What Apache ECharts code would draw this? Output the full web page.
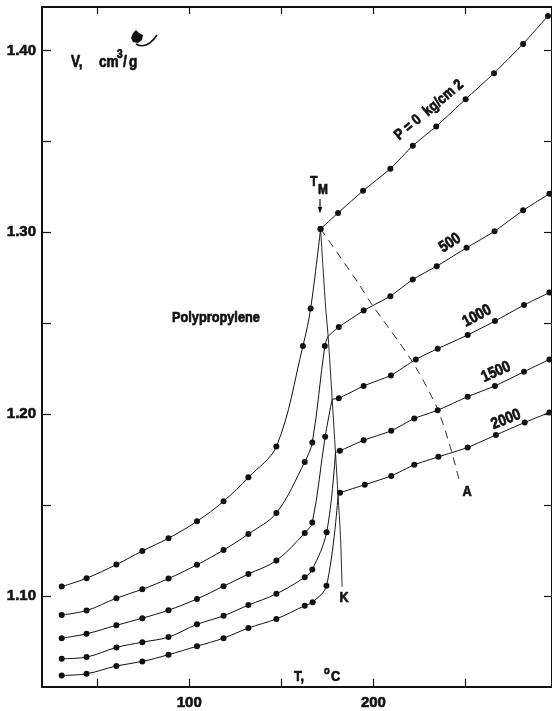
<!DOCTYPE html>
<html>
<head>
<meta charset="utf-8">
<script src="https://cdn.jsdelivr.net/npm/echarts@6/dist/echarts.min.js"></script>
<style>
  html, body { margin: 0; padding: 0; background: #fff; }
  #chart { width: 552px; height: 711px; }
</style>
</head>
<body>
<div id="chart"></div>
<script>
// Specific volume V (cm3/g) of polypropylene against temperature T (°C)
// at five pressures; each isobar has a solid branch and a melt branch.

const FONT = "'Liberation Sans', Arial, sans-serif";

// axis ticks and labels
const xTicks = [50, 100, 150, 200, 250];
const xLabels = [100, 200];
const yTicks = [1.10, 1.15, 1.20, 1.25, 1.30, 1.35, 1.40];
const yLabels = [1.10, 1.20, 1.30, 1.40];

// P = 0 kg/cm2
const solidP0 = [[30.7, 1.1051], [44.2, 1.1097], [60.4, 1.1172], [74.5, 1.1247], [88.7, 1.1317],
  [104.2, 1.1410], [118.6, 1.1520], [132.1, 1.1652], [147.3, 1.1822], [161.7, 1.2374], [165.9, 1.2581]];
const meltPointTM = [171.3, 1.3019];
const liquidP0 = [[180.8, 1.3107], [194.4, 1.3229], [209.2, 1.3350], [221.4, 1.3477], [234.1, 1.3583],
  [250.1, 1.3733], [265.5, 1.3876], [281.3, 1.4037], [294.8, 1.4191]];

// 500 kg/cm2
const solid500 = [[30.7, 1.0895], [44.2, 1.0919], [60.4, 1.0987], [74.5, 1.1036], [88.7, 1.1095],
  [104.2, 1.1171], [118.6, 1.1252], [132.1, 1.1340], [147.3, 1.1456], [162.7, 1.1737], [166.8, 1.1844], [173.6, 1.2374]];
const liquid500 = [[181.2, 1.2479], [194.7, 1.2570], [209.2, 1.2649], [221.4, 1.2741], [234.4, 1.2814],
  [250.6, 1.2915], [265.8, 1.3006], [281.3, 1.3121], [295.6, 1.3212]];

// 1000 kg/cm2
const solid1000 = [[30.7, 1.0767], [44.2, 1.0791], [60.4, 1.0838], [74.5, 1.0877], [88.7, 1.0921],
  [104.2, 1.0983], [118.6, 1.1053], [132.1, 1.1120], [147.3, 1.1194], [162.7, 1.1346], [166.8, 1.1404], [173.8, 1.1876]];
const liquid1000 = [[181.2, 1.2087], [194.7, 1.2155], [209.5, 1.2213], [223.0, 1.2301], [234.9, 1.2360],
  [251.2, 1.2435], [266.0, 1.2512], [281.8, 1.2600], [295.6, 1.2669]];

// 1500 kg/cm2
const solid1500 = [[30.7, 1.0654], [44.2, 1.0663], [60.4, 1.0716], [74.5, 1.0745], [88.7, 1.0773],
  [104.2, 1.0843], [118.6, 1.0890], [132.1, 1.0949], [147.3, 1.1011], [162.7, 1.1102], [166.8, 1.1145], [174.6, 1.1350]];
const liquid1500 = [[181.8, 1.1798], [194.7, 1.1856], [209.7, 1.1908], [222.2, 1.1976], [234.9, 1.2021],
  [251.2, 1.2096], [266.0, 1.2155], [281.8, 1.2233], [295.6, 1.2301]];

// 2000 kg/cm2
const solid2000 = [[30.7, 1.0562], [44.2, 1.0571], [60.4, 1.0614], [74.5, 1.0639], [88.7, 1.0676],
  [104.2, 1.0723], [118.6, 1.0767], [132.1, 1.0823], [147.3, 1.0873], [162.7, 1.0946], [167.0, 1.0965], [174.5, 1.1055]];
const liquid2000 = [[181.9, 1.1567], [195.3, 1.1611], [209.7, 1.1660], [222.2, 1.1721], [235.3, 1.1765],
  [251.2, 1.1816], [266.5, 1.1885], [282.2, 1.1954], [295.6, 1.2009]];

// where each solid branch meets the T_M–K line
const junctions = [[175.4, 1.2429], [177.6, 1.2082], [179.4, 1.1789], [180.8, 1.1551]];

// guide lines from T_M
const lineTMtoK = [[171.3, 1.3019], [174.0, 1.2594], [175.4, 1.2429], [177.6, 1.2082], [179.4, 1.1789],
  [180.8, 1.1551], [182.1, 1.1331], [183.0, 1.1049]];
const lineTMtoA = [[171.3, 1.3019], [191.1, 1.2731], [199.2, 1.2603], [220.9, 1.2292], [234.4, 1.2038],
  [241.3, 1.1835], [246.7, 1.1631]];

const INK = '#111';

function hidden(p) { return { value: p, symbol: 'none' }; }

function branch(data, smooth) {
  return {
    type: 'line', data: data, smooth: smooth,
    symbol: 'circle', symbolSize: 6,
    itemStyle: { color: INK },
    lineStyle: { color: INK, width: 1 },
    z: 3
  };
}

const series = [
  // P = 0
  branch(solidP0.concat([meltPointTM]), 0.35),
  branch([meltPointTM].concat(liquidP0), 0.15),
  // 500
  branch(solid500.concat([hidden(junctions[0])]), 0.35),
  branch([hidden(junctions[0])].concat(liquid500), 0.15),
  // 1000
  branch(solid1000.concat([hidden(junctions[1])]), 0.35),
  branch([hidden(junctions[1])].concat(liquid1000), 0.15),
  // 1500
  branch(solid1500.concat([hidden(junctions[2])]), 0.35),
  branch([hidden(junctions[2])].concat(liquid1500), 0.15),
  // 2000
  branch(solid2000.concat([hidden(junctions[3])]), 0.35),
  branch([hidden(junctions[3])].concat(liquid2000), 0.15),
  {
    type: 'line', data: lineTMtoK, smooth: 0.3, symbol: 'none',
    lineStyle: { color: INK, width: 0.9 }, z: 2
  },
  {
    type: 'line', data: lineTMtoA, smooth: 0.3, symbol: 'none',
    lineStyle: { color: INK, width: 0.9, type: [8, 6] }, z: 2
  }
];

const axisLine = { show: true, onZero: false, lineStyle: { color: INK, width: 2 } };
const tickLabel = {
  color: INK, fontFamily: FONT, fontWeight: 'bold', fontSize: 15,
  textBorderColor: INK, textBorderWidth: 0.6
};

// heavy, horizontally condensed annotation text
function txt(x, y, text, size, rot, align) {
  return {
    type: 'text', x: x, y: y, rotation: (rot || 0) * Math.PI / 180, scaleX: 0.85, silent: true,
    style: {
      text: text, fill: INK, stroke: INK, lineWidth: 0.7,
      fontFamily: FONT, fontWeight: 'bold', fontSize: size,
      align: align || 'center', verticalAlign: 'middle'
    }
  };
}

const chart = echarts.init(document.getElementById('chart'), null, { renderer: 'canvas' });
chart.setOption({
  animation: false,
  backgroundColor: '#fff',
  grid: { left: 42, top: 7, width: 512, height: 681, containLabel: false },
  xAxis: [
    {
      type: 'value', min: 20, max: 297, position: 'bottom',
      axisLine: axisLine,
      axisTick: { show: true, inside: true, length: 8, customValues: xTicks, lineStyle: { color: INK, width: 1.2 } },
      axisLabel: Object.assign({ customValues: xLabels, margin: 9 }, tickLabel),
      splitLine: { show: false }
    },
    {
      type: 'value', min: 20, max: 297, position: 'top',
      axisLine: axisLine,
      axisTick: { show: true, inside: true, length: 7, customValues: xTicks, lineStyle: { color: INK, width: 1.2 } },
      axisLabel: { show: false },
      splitLine: { show: false }
    }
  ],
  yAxis: [
    {
      type: 'value', min: 1.05, max: 1.424, position: 'left',
      axisLine: axisLine,
      axisTick: { show: true, inside: true, length: 9, customValues: yTicks, lineStyle: { color: INK, width: 1.2 } },
      axisLabel: Object.assign({ customValues: yLabels, margin: 6, formatter: v => v.toFixed(2) }, tickLabel),
      splitLine: { show: false }
    },
    {
      type: 'value', min: 1.05, max: 1.424, position: 'right',
      axisLine: axisLine,
      axisTick: { show: true, inside: true, length: 8, customValues: yTicks, lineStyle: { color: INK, width: 1.2 } },
      axisLabel: { show: false },
      splitLine: { show: false }
    }
  ],
  series: series,
  graphic: {
    elements: [
      // axis title for V
      txt(71, 63, 'V,', 16, 0, 'left'),
      txt(99, 63, 'cm', 16, 0, 'left'),
      txt(117, 55, '3', 12, 0, 'left'),
      txt(123, 63, '/', 16, 0, 'left'),
      txt(129, 63, 'g', 16, 0, 'left'),
      // small pen mark beside the title
      {
        type: 'polygon', silent: true,
        shape: { points: [[133, 33], [136, 30], [139, 33], [143, 35], [142, 40], [138, 43], [133, 42], [131, 38]] },
        style: { fill: INK }
      },
      {
        type: 'bezierCurve', silent: true,
        shape: { x1: 136, y1: 44, x2: 157, y2: 35, cpx1: 147, cpy1: 50 },
        style: { stroke: INK, lineWidth: 1.6, fill: null }
      },
      // axis title for T
      txt(294, 677, 'T,', 15, 0, 'left'),
      txt(324, 671, 'o', 11, 0, 'left'),
      txt(331, 677, 'C', 15, 0, 'left'),
      // isobar labels
      txt(429, 110, 'P = 0  kg/cm 2', 15, 40),
      txt(450, 243, '500', 16, 33),
      txt(477, 316, '1000', 16, 28),
      txt(496, 372, '1500', 16, 24),
      txt(506, 419.5, '2000', 16, 22),
      // melting point marker
      txt(314, 182, 'T', 14),
      txt(323, 190, 'M', 14),
      {
        type: 'line', silent: true,
        shape: { x1: 320, y1: 199, x2: 320, y2: 210 },
        style: { stroke: INK, lineWidth: 1.2 }
      },
      {
        type: 'polygon', silent: true,
        shape: { points: [[317.8, 207], [322.2, 207], [320, 213.5]] },
        style: { fill: INK }
      },
      txt(172, 318, 'Polypropylene', 15, 0, 'left'),
      txt(467, 492, 'A', 15),
      txt(344, 598, 'K', 15)
    ]
  }
});
</script>
</body>
</html>
